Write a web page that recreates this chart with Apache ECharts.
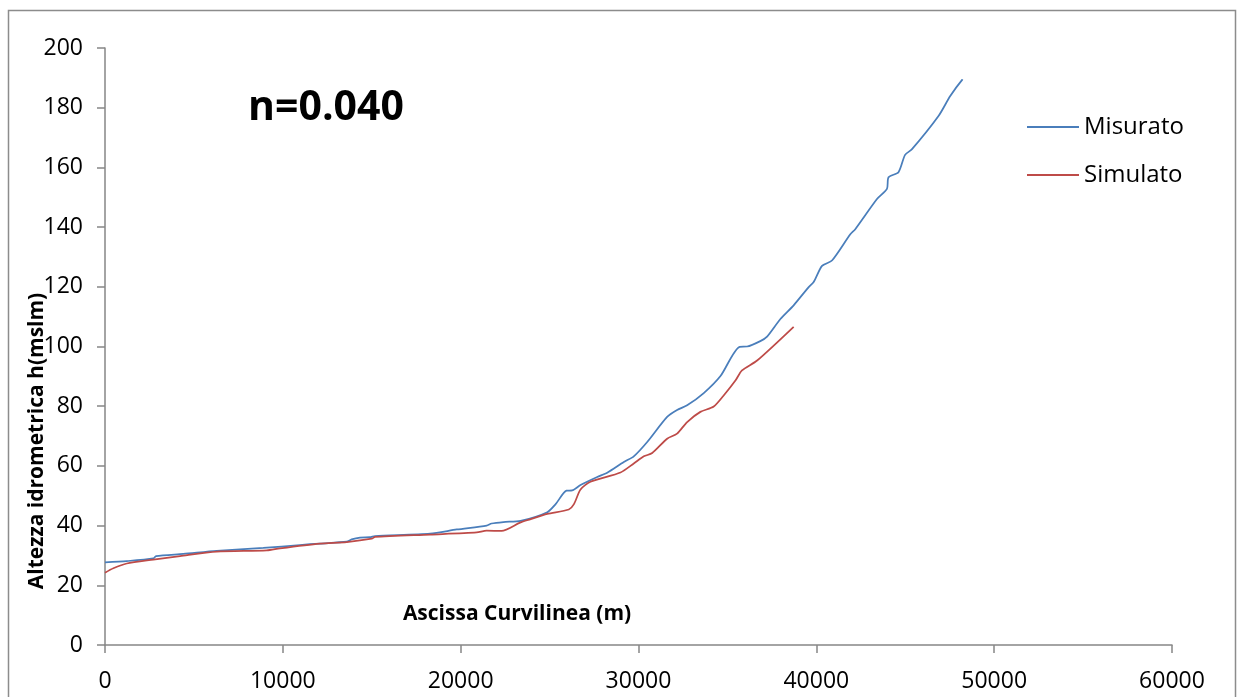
<!DOCTYPE html>
<html>
<head>
<meta charset="utf-8">
<script src="https://cdn.jsdelivr.net/npm/echarts@6/dist/echarts.min.js"></script>
<style>
html,body{margin:0;padding:0;background:#fff;}
#chart{width:1243px;height:697px;}
</style>
</head>
<body>
<div id="chart"></div>
<script>
// Data
const seriesNames = ['Misurato', 'Simulato'];
const xTicks = [0, 10000, 20000, 30000, 40000, 50000, 60000];
const yTicks = [0, 20, 40, 60, 80, 100, 120, 140, 160, 180, 200];

const misuratoX = [0, 1220, 2720, 2870, 4400, 6280, 8900, 10960, 12090, 13590, 13870, 14340, 14900, 15185, 18280, 19780, 21460, 21740, 22400, 23370, 24870, 25340, 25950, 26270, 26740, 27680, 28240, 29175, 29735, 30490, 31610, 32170, 32735, 33670, 34610, 35690, 36110, 36850, 37230, 37980, 38725, 39570, 39850, 40320, 40880, 41910, 42190, 43410, 43970, 44060, 44620, 44990, 45380, 46870, 47530, 48220];
const misuratoY = [27.7, 28.1, 29.0, 29.8, 30.5, 31.5, 32.5, 33.5, 34.0, 34.6, 35.4, 36.0, 36.1, 36.5, 37.3, 38.7, 40.0, 40.7, 41.2, 41.6, 44.5, 47.2, 51.7, 51.8, 53.6, 56.3, 57.7, 61.3, 63.2, 68.0, 76.4, 78.7, 80.3, 84.4, 90.1, 99.9, 100.0, 101.8, 103.3, 109.2, 113.8, 119.9, 121.6, 127.0, 128.8, 137.6, 139.3, 149.4, 152.8, 156.7, 158.4, 164.2, 166.1, 177.2, 183.9, 189.5];

const simulatoX = [0, 470, 1220, 2720, 4220, 6280, 9100, 9840, 12090, 13590, 15000, 15185, 18280, 20900, 21460, 22300, 23340, 23900, 24870, 26080, 26370, 26740, 27300, 28990, 29735, 30300, 30770, 31610, 32170, 32735, 33480, 34230, 34790, 35450, 35820, 36670, 38725];
const simulatoY = [24.2, 25.7, 27.3, 28.6, 29.8, 31.3, 31.7, 32.4, 34.0, 34.5, 35.6, 36.2, 37.0, 37.7, 38.3, 38.2, 41.0, 42.1, 43.9, 45.4, 47.2, 52.1, 54.7, 57.8, 60.8, 63.2, 64.3, 69.1, 70.8, 74.7, 78.1, 79.9, 83.6, 88.6, 92.0, 95.3, 106.6];

const titleText = 'n=0.040';
const xTitle = 'Ascissa Curvilinea (m)';
const yTitle = 'Altezza idrometrica h(mslm)';

const FONT = '"Open Sans", "Noto Sans", sans-serif';
const zip = (xs, ys) => xs.map((x, i) => [x, ys[i]]);

const chart = echarts.init(document.getElementById('chart'), null, {renderer: 'canvas'});
chart.setOption({
  animation: false,
  backgroundColor: '#ffffff',
  grid: {left: 105, right: 71, top: 48, bottom: 52, containLabel: false},
  xAxis: {
    type: 'value', min: xTicks[0], max: xTicks[xTicks.length - 1], interval: xTicks[1] - xTicks[0],
    axisLine: {show: true, onZero: false, lineStyle: {color: '#868686', width: 1.5}},
    axisTick: {show: true, inside: false, length: 8, lineStyle: {color: '#868686', width: 1.5}},
    splitLine: {show: false},
    axisLabel: {color: '#000', fontFamily: FONT, fontSize: 23, margin: 25, formatter: v => String(v)}
  },
  yAxis: {
    type: 'value', min: yTicks[0], max: yTicks[yTicks.length - 1], interval: yTicks[1] - yTicks[0],
    axisLine: {show: true, onZero: false, lineStyle: {color: '#868686', width: 1.5}},
    axisTick: {show: true, inside: false, length: 8, lineStyle: {color: '#868686', width: 1.5}},
    splitLine: {show: false},
    axisLabel: {color: '#000', fontFamily: FONT, fontSize: 23, margin: 22, formatter: v => String(v)}
  },
  legend: {
    orient: 'vertical', left: 1022, top: 110, itemGap: 24,
    icon: 'rect', itemWidth: 52, itemHeight: 2,
    textStyle: {color: '#000', fontFamily: FONT, fontSize: 24},
    data: seriesNames
  },
  series: [
    {name: seriesNames[0], type: 'line', data: zip(misuratoX, misuratoY), showSymbol: false, symbol: 'none',
     smooth: 0.25, lineStyle: {color: '#4a7ebb', width: 1.75}, itemStyle: {color: '#4a7ebb'}},
    {name: seriesNames[1], type: 'line', data: zip(simulatoX, simulatoY), showSymbol: false, symbol: 'none',
     smooth: 0.25, lineStyle: {color: '#be4b48', width: 1.75}, itemStyle: {color: '#be4b48'}}
  ],
  graphic: [
    {type: 'rect', shape: {x: 8.5, y: 10.5, width: 1227, height: 720}, style: {fill: 'none', stroke: '#8c8c8c', lineWidth: 1.5}, silent: true, z: -1},
    {type: 'text', x: 326, y: 108, style: {text: titleText, font: 'bold 41px ' + FONT, fill: '#000', align: 'center', verticalAlign: 'middle'}},
    {type: 'text', x: 517, y: 614, style: {text: xTitle, font: 'bold 21px ' + FONT, fill: '#000', align: 'center', verticalAlign: 'middle'}},
    {type: 'text', x: 37, y: 441, rotation: Math.PI / 2, style: {text: yTitle, font: 'bold 21px ' + FONT, fill: '#000', align: 'center', verticalAlign: 'middle'}}
  ]
});
</script>
</body>
</html>
